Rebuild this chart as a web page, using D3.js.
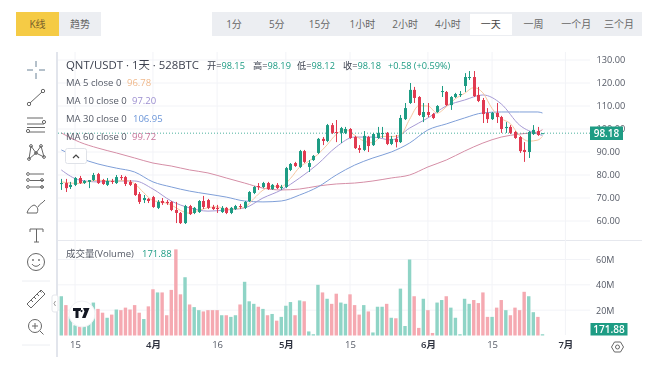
<!DOCTYPE html>
<html><head><meta charset="utf-8">
<script src="https://cdn.jsdelivr.net/npm/d3@7/dist/d3.min.js"></script>
<style>
html,body{margin:0;padding:0;background:#fff;}
svg{display:block;font-family:"Open Sans","Noto Sans CJK SC",sans-serif;filter:blur(.3px);}
.ax .domain{display:none}
</style></head><body><div id="c"></div>
<script>
const open_=[76.1,76.5,74.8,75.7,78.7,76.5,77,77.8,80.4,77.8,75.7,77.4,76.5,79.1,79.1,77,76.1,71.7,69.1,69.6,70.4,65.7,68.7,68.3,68.3,64.8,63.5,59.1,66.5,63.5,63.9,68.7,69.1,66.1,65.7,63.9,65.7,63.5,65.2,66.5,65.7,68.7,72.2,75.2,74.8,76.5,73.9,75.7,74.3,74.8,82.2,85.2,83.5,90.4,83.5,86.5,89.6,95.7,94.8,101.7,98.7,98.3,98.3,100,96.5,91.7,90.9,96.5,93,96.1,97.8,98.3,93.5,95.7,94.3,104.3,111.3,117,113.9,105.2,107.4,106.5,107.4,116.1,116.1,110.4,113.9,114.8,118.7,122.2,122.6,114.8,112.6,107,104.3,107,105.2,100.4,100.9,98.7,96.5,90.9,90,97.8,99.1,98.15];
const high_=[78.3,78.3,77,79.1,79.6,77.8,77.8,80.9,80.9,78.3,78.7,78.3,80,80,79.6,77.8,76.5,72.6,71.3,70,70.9,69.1,70,69.1,68.7,68.3,63.9,67,67,66.1,69.1,70.9,69.6,67,67,66.5,66.1,66.1,67,67.4,68.7,73,75.2,76.5,77,77,76.1,76.5,75.7,83.5,85.2,85.7,90.9,90.9,86.5,88.7,96.1,96.5,102.2,102.6,103.9,100.9,100.9,100.4,97,93,99.1,97,98.3,100.9,100.9,98.7,97,97.4,106.1,111.3,120,118.3,114.3,111.3,111.3,107,110.4,118.7,116.5,114.3,115.7,116.5,124.3,125.2,125.2,118.3,113.5,109.1,107.4,111.3,105.7,103,101.7,99.1,97,94.3,99.1,101.7,100.9,98.19];
const low_=[73.5,72.6,73.9,75.2,76.1,76.1,74.3,77.4,76.1,75.7,75.2,76.1,76.1,77.8,75.2,75.2,70.9,67.4,67.8,67.8,65.7,65.2,67,67,64.3,59.1,58.7,58.7,62.6,63,63.5,65.2,65.2,64.8,63.5,63.5,63,63,64.8,65.2,65.2,68.3,71.7,73.5,74.3,73.5,73.5,73.9,73.5,74.3,81.7,83.5,83,85.2,81.3,86.1,89.1,93,94.3,97.8,94.3,93.9,97.8,95.7,91.3,89.6,90.4,90,92.6,95.7,96.1,93,93,92,93.9,103.9,110.9,111.3,105.7,103,105.2,104.3,107,113.9,110,108.3,113.5,113.9,116.1,121.3,113.9,111.7,102.6,102.6,103.9,102.6,98.3,98.3,97.8,95.7,89.6,85.7,87.4,97.4,97,98.12];
const close_=[76.5,74.3,75.7,78.7,76.5,77.4,77.8,80,76.5,76.1,77.4,77,79.1,78.7,76.1,75.7,71.3,68.3,70,68.7,66.1,68.3,67.8,67.8,64.8,63.5,59.1,66.5,63,65.7,68.7,66.1,65.7,65.2,65.2,65.7,63.5,65.7,66.5,66.1,68.3,72.6,74.8,74.8,76.5,73.9,75.7,74.3,74.8,83,84.8,83.9,90.4,85.7,85.2,88.3,95.7,94.8,101.7,98.3,98.3,100.4,100,96.1,91.7,90.9,97,92.6,97.8,98.3,98.3,93.5,95.7,94.3,104.8,109.1,117,113.5,106.1,107.4,106.1,104.8,110,116.5,110.4,113.9,115.2,115.2,122.6,122.6,114.3,112.2,106.5,104.3,107,105.2,100,100.9,98.3,96.1,90.4,90,98.7,99.6,97.4,98.18];
const volumeM=[31,24,15,8,8,9,16,26,21,18,14,16.5,20.5,20,22,20.5,24,18,13,23,36.5,34,34,16,36,68,32.5,46,24.5,22.4,20,19,20,20,20,16,16,14.7,16,24.5,42.4,27,25,22.7,21,16,17,11.7,14.7,23.5,26.4,16,27.7,27,3.2,1,40,34,29,25,33,26,25,32.5,24,16.5,24,19,2.4,22.7,22.7,25,14,13.6,37,7.5,60,31,6,29,20,2,26,28,31,22,14,1,29,25,28,25.6,34,14.7,14.7,22,28,20,16,22,20,34.5,31,18.4,14.7,1];
const ma5=[77,76.5,76.3,77.2,77.7,77.6,77.2,77.7,76.2,72.3,68.9,68.2,67,64.6,63.4,64.6,65.8,66.2,65,65.3,66,69.7,73.4,75.1,75,78.5,83.4,86,89,93.1,97.7,99.7,97.3,94.8,94,96.8,96.7,97.3,104.2,110.1,110,106.9,109.6,113.2,115.5,118,115.7,108.9,104.6,102.3,97.1,94.7,95.2,96.78];
const ma10=[82.2,77.8,77,77.4,77.4,73.9,68.7,65.7,64.3,64.8,65.7,70,73.5,78.7,84.8,92.2,96.5,96.5,95.2,100.4,104.8,110,112.6,114.8,110.9,101.7,97.8,97.2];
const ma30=[90.9,87.4,84.8,83,81.3,77,74.8,73,71.7,70.4,68.7,68.3,68.7,71.3,74.8,80,84.3,87.4,90,93.9,99.6,102.2,104.8,107,107.4,107.4,107.4,106.95];
const ma60=[98.3,94.3,91.7,89.6,87.4,85.2,83.9,82.2,80.9,78.7,76.5,74.3,73.5,73.9,75.2,76.1,76.5,77.4,78.7,80,83.5,86.5,90.4,93.9,96.5,97.8,98.7,99.72];
const priceTicks=[130,120,110,100,90,80,70,60];
const volTicks=[60,40,20];
const timeTicks=["03-15","04-01","04-16","05-01","05-15","06-01","06-15","07-01"];
const timeLabels=["15","4月","16","5月","15","6月","15","7月"];
const topTabs=["1分","5分","15分","1小时","2小时","4小时","一天","一周","一个月","三个月"];
const maNames=["MA 5 close 0","MA 10 close 0","MA 30 close 0","MA 60 close 0"];
const maVals=["96.78","97.20","106.95","99.72"];
const ohlcLabels=[["开=","98.15"],["高=","98.19"],["低=","98.12"],["收=","98.18"]];

// trading days of the chart (one missing day in early April), then future slots to 1 July
const categories=d3.timeDay.range(new Date(2021,2,12),new Date(2021,6,2))
  .map(d3.timeFormat("%m-%d")).filter(d=>d!=="04-05");

const GREEN="#1e9c84",RED="#e13a50",VG="#8fd4c6",VR="#f5a9b1",TXT="#555a66",GRID="#f2f3f7";
const MAC=["#f6c7a0","#a69ad4","#7f9fd8","#d58ea6"];
const MAT=["#f0b98c","#9c8fd0","#6a95d8","#c9749a"];
const svg=d3.select("#c").append("svg").attr("width",650).attr("height",369);

const x=d3.scalePoint().domain(categories).range([61.3,565.4]);
const xi=i=>x(categories[i]);
const y=d3.scaleLinear().domain([60,130]).range([221,60]);
const yv=d3.scaleLinear().domain([0,60]).range([335.5,259.5]);
const priceG=d3.axisRight(y).tickValues(priceTicks).tickFormat(d3.format(".2f")).tickSize(0).tickPadding(0);

// top tabs
svg.append("rect").attr("x",16).attr("y",12).attr("width",43).attr("height",24).attr("fill","#f5cb45");
svg.append("rect").attr("x",59).attr("y",12).attr("width",42).attr("height",24).attr("fill","#eceef2");
svg.append("text").attr("x",37.5).attr("y",28).attr("text-anchor","middle").attr("font-size",10).attr("fill","#77602a").text("K线");
svg.append("text").attr("x",80).attr("y",28).attr("text-anchor","middle").attr("font-size",10).attr("fill","#666").text("趋势");
svg.append("rect").attr("x",212).attr("y",12).attr("width",430).attr("height",24).attr("fill","#eceef2");
svg.append("rect").attr("x",470).attr("y",14).attr("width",42).attr("height",21).attr("fill","#fff");
const tabX=d3.scalePoint().domain(topTabs).range([234,619]);
svg.selectAll(".tab").data(topTabs).join("text").attr("class","tab").attr("x",d=>tabX(d)).attr("y",28)
  .attr("text-anchor","middle").attr("font-size",10).attr("fill",d=>d==="一天"?"#444":"#666").text(d=>d);

// panel frame
svg.append("rect").attr("x",56).attr("y",52).attr("width",2).attr("height",305).attr("fill","#e2e5ec");
svg.append("line").attr("x1",58).attr("x2",642).attr("y1",240.5).attr("y2",240.5).attr("stroke","#e6e8ee");

// grid
svg.append("g").attr("transform","translate(0,52)").call(g=>{
  g.selectAll("line").data(timeTicks).join("line").attr("x1",d=>x(d)).attr("x2",d=>x(d)).attr("y1",0).attr("y2",283).attr("stroke",GRID);
});
svg.append("g").selectAll("line").data(priceTicks).join("line").attr("x1",58).attr("x2",590).attr("y1",d=>y(d)).attr("y2",d=>y(d)).attr("stroke",GRID);
svg.append("g").selectAll("line").data(volTicks).join("line").attr("x1",58).attr("x2",590).attr("y1",d=>yv(d)).attr("y2",d=>yv(d)).attr("stroke",GRID);

// axes
svg.append("g").attr("class","ax").attr("transform","translate(596.5,0)").call(priceG)
  .call(g=>g.selectAll("text").attr("font-size",9.2).attr("fill",TXT).attr("font-family",'"Open Sans"'));
svg.append("g").attr("class","ax").attr("transform","translate(596,0)")
  .call(d3.axisRight(yv).tickValues(volTicks).tickFormat(d=>d+"M").tickSize(0).tickPadding(0))
  .call(g=>g.selectAll("text").attr("font-size",9).attr("fill",TXT).attr("font-family",'"Open Sans"'));
svg.append("g").attr("class","ax").attr("transform","translate(0,338)")
  .call(d3.axisBottom(x).tickValues(timeTicks).tickFormat((d,i)=>timeLabels[i]).tickSize(0).tickPadding(3))
  .call(g=>g.selectAll("text").attr("font-size",9.5).attr("font-family",'"Open Sans","Noto Sans CJK SC"')
     .attr("fill",(d,i)=>timeLabels[i].includes("月")?"#2f3340":TXT).attr("font-weight",(d,i)=>timeLabels[i].includes("月")?600:400));

// volume bars
const bars=d3.range(open_.length);
svg.append("g").selectAll("rect").data(bars).join("rect")
  .attr("x",i=>xi(i)-1.7).attr("width",3.4).attr("y",i=>yv(volumeM[i])).attr("height",i=>yv(0)-yv(volumeM[i]))
  .attr("fill",i=>close_[i]>=open_[i]?VG:VR);

// moving averages
const every4=d3.range(0,105,4).concat(105), every2=d3.range(0,105,2).concat(105);
const line=d3.line().x(d=>xi(d[0])).y(d=>y(d[1])).curve(d3.curveMonotoneX);
[[ma60,every4,3],[ma30,every4,2],[ma10,every4,1],[ma5,every2,0]].forEach(([vals,idx,c])=>{
  svg.append("path").attr("d",line(vals.map((v,k)=>[idx[k],v]))).attr("fill","none").attr("stroke",MAC[c]).attr("stroke-width",1);
});

// last price dotted line
svg.append("line").attr("x1",58).attr("x2",590).attr("y1",y(98.18)).attr("y2",y(98.18))
  .attr("stroke",GREEN).attr("stroke-dasharray","1 2").attr("opacity",.8);

// candles
svg.append("g").selectAll("line").data(bars).join("line")
  .attr("x1",i=>Math.round(xi(i))+.5).attr("x2",i=>Math.round(xi(i))+.5).attr("y1",i=>y(high_[i])).attr("y2",i=>y(low_[i]))
  .attr("stroke",i=>close_[i]>=open_[i]?GREEN:RED).attr("stroke-width",1);
svg.append("g").selectAll("rect").data(bars).join("rect")
  .attr("x",i=>Math.round(xi(i))-1).attr("width",3)
  .attr("y",i=>y(Math.max(open_[i],close_[i]))).attr("height",i=>Math.max(1,Math.abs(y(open_[i])-y(close_[i]))))
  .attr("fill",i=>close_[i]>=open_[i]?GREEN:RED);

// price tags
svg.append("rect").attr("x",590).attr("y",126.5).attr("width",33).attr("height",13.5).attr("fill",GREEN);
svg.append("text").attr("x",606.5).attr("y",137).attr("text-anchor","middle").attr("font-size",10).attr("font-weight",600).attr("fill","#fff").text("98.18");
svg.append("rect").attr("x",590.5).attr("y",323).attr("width",37).attr("height",12.5).attr("fill",GREEN);
svg.append("text").attr("x",609).attr("y",333).attr("text-anchor","middle").attr("font-size",10).attr("font-weight",600).attr("fill","#fff").text("171.88");

// header legend
svg.append("text").attr("x",66).attr("y",69).attr("font-size",11.4).attr("fill","#3d4250").text("QNT/USDT · 1天 · 528BTC");
const ox=[207,253,297,343];
ohlcLabels.forEach((p,k)=>{
  const t=svg.append("text").attr("x",ox[k]).attr("y",68.5).attr("font-size",9.2);
  t.append("tspan").attr("fill","#3d4250").text(p[0]);
  t.append("tspan").attr("fill",GREEN).text(p[1]);
});
svg.append("text").attr("x",388).attr("y",68.5).attr("font-size",9.2).attr("fill",GREEN).text("+0.58 (+0.59%)");
const maY=[86,104,122,140], maValX=[127,132,133,132];
maNames.forEach((n,k)=>{
  svg.append("text").attr("x",66).attr("y",maY[k]).attr("font-size",9.5).attr("fill","#555a66").text(n);
  svg.append("text").attr("x",maValX[k]).attr("y",maY[k]).attr("font-size",9.5).attr("fill",MAT[k]).text(maVals[k]);
});
// collapse button
svg.append("rect").attr("x",65.5).attr("y",148.5).attr("width",21).attr("height",15).attr("rx",2).attr("fill","#fff").attr("stroke","#dfe2e8");
svg.append("path").attr("d","M73 158l3-3 3 3").attr("fill","none").attr("stroke","#444").attr("stroke-width",1.2);

// volume legend
svg.append("text").attr("x",66).attr("y",257).attr("font-size",9.5).attr("fill","#555a66").text("成交量(Volume)");
svg.append("text").attr("x",142).attr("y",257).attr("font-size",9.5).attr("fill",GREEN).text("171.88");

// watermark
svg.append("circle").attr("cx",82).attr("cy",314).attr("r",13).attr("fill","#fff").attr("stroke","#f0f1f4").attr("stroke-width",1);
svg.append("path").attr("d","M73 308h8v3h-2.5v7h-3v-7H73zM83 308h6.5l-4 10h-3.5l2.5-6.5zM81.5 310a1 1 0 1 0 .01 0z").attr("fill","#131722");

// side collapse tab
svg.append("rect").attr("x",52).attr("y",295).attr("width",6).attr("height",17).attr("rx",2).attr("fill","#fff").attr("stroke","#e5e7ec");
svg.append("path").attr("d","M55.5 301l-1.5 2.5 1.5 2.5").attr("fill","none").attr("stroke","#999");

// toolbar icons
const ic=svg.append("g").attr("fill","none").attr("stroke","#666").attr("stroke-width",1);
ic.append("path").attr("d","M27 70h6M39 70h6M36 61v6M36 73v6").attr("stroke","#6b8296");
ic.append("path").attr("d","M30 103L42 92");
ic.append("circle").attr("cx",29).attr("cy",104).attr("r",1.7);ic.append("circle").attr("cx",43).attr("cy",91).attr("r",1.7);
ic.append("path").attr("d","M27 118H43M27 124H44M29 132H45M27 127.5H45");
ic.append("circle").attr("cx",44).attr("cy",122).attr("r",1.6);ic.append("circle").attr("cx",28).attr("cy",131).attr("r",1.6);
ic.append("path").attr("d","M29 159L31 146L36 153L41 146L44 157L36 153Z");
[[29,159],[31,146],[36,153],[41,146],[44,157]].forEach(p=>ic.append("circle").attr("cx",p[0]).attr("cy",p[1]).attr("r",1.4));
ic.append("path").attr("d","M30 174H44M30 180.5H44M30 187H44");
[[28,174],[42,180],[28,187],[42,187],[28,180]].forEach(p=>ic.append("circle").attr("cx",p[0]).attr("cy",p[1]).attr("r",1.4));
ic.append("path").attr("d","M27 213H37C39 209 37 206 34 205C31 206 28 209 27 213ZM38 207C40 203 42 204 45 200");
ic.append("path").attr("d","M30 229H43M30 229V232M43 229V232M36.5 229V242M34 242H39");
ic.append("circle").attr("cx",36).attr("cy",262).attr("r",8.5);
ic.append("path").attr("d","M32 264C34 267 38 267 40 264");
ic.append("circle").attr("cx",33).attr("cy",260).attr("r",.6);ic.append("circle").attr("cx",39).attr("cy",260).attr("r",.6);
svg.append("line").attr("x1",22).attr("x2",50).attr("y1",281).attr("y2",281).attr("stroke","#eceef2");
ic.append("path").attr("d","M27 304L41 290L45 294L31 308ZM31 300l2 2M34 297l2 2M37 294l2 2M40 291l1.5 1.5");
ic.append("circle").attr("cx",35).attr("cy",326).attr("r",6.5);
ic.append("path").attr("d","M32 326h6M35 323v6M40 331l3.5 3.5");
svg.append("line").attr("x1",22).attr("x2",50).attr("y1",345).attr("y2",345).attr("stroke","#eceef2");
// gear
const gr=svg.append("g").attr("fill","none").attr("stroke","#666");
gr.append("path").attr("d","M614.5 342h6l3 5-3 5h-6l-3-5z");
gr.append("circle").attr("cx",617.5).attr("cy",347).attr("r",2);
</script></body></html>
